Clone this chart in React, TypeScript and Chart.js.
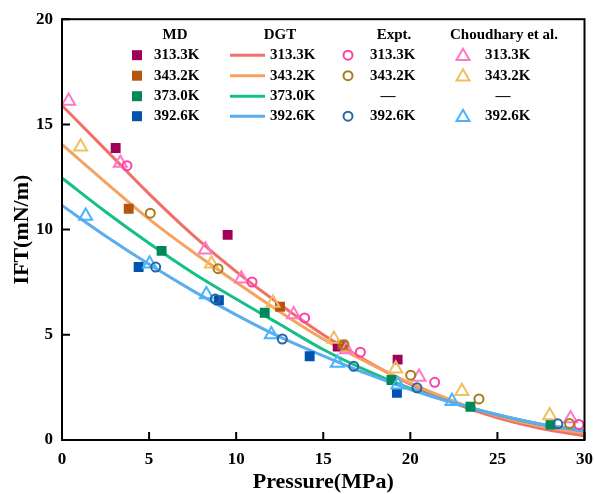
import React, { useEffect, useRef } from "react";
import { Chart, registerables } from "chart.js";

Chart.register(...registerables);

// ---------- data ----------
const tempLabels = ["313.3K", "343.2K", "373.0K", "392.6K"];
const xTicks = [0, 5, 10, 15, 20, 25, 30];
const yTicks = [0, 5, 10, 15, 20];

// MD (squares)
const md313x = [3.08, 9.51, 15.83, 19.27];
const md313y = [13.88, 9.75, 4.44, 3.82];
const md343x = [3.83, 12.52, 16.1];
const md343y = [10.99, 6.33, 4.53];
const md373x = [5.72, 11.64, 18.92, 23.45, 28.05];
const md373y = [8.99, 6.05, 2.85, 1.58, 0.74];
const md392x = [4.4, 9.01, 14.22, 19.23];
const md392y = [8.22, 6.64, 3.98, 2.24];

// DGT (lines)
const dgtP = [0, 2.5, 5, 7.5, 10, 12.5, 15, 17.5, 20, 22.5, 25, 27.5, 30];
const dgt313 = [15.9, 13.8, 11.7, 9.75, 8.0, 6.45, 5.0, 3.75, 2.65, 1.75, 1.05, 0.55, 0.2];
const dgt343 = [14.05, 12.25, 10.5, 8.95, 7.5, 6.1, 4.8, 3.7, 2.7, 1.85, 1.15, 0.65, 0.32];
const dgt373 = [12.45, 10.85, 9.35, 7.95, 6.7, 5.5, 4.3, 3.3, 2.45, 1.75, 1.2, 0.75, 0.45];
const dgt392 = [11.15, 9.7, 8.35, 7.1, 5.95, 4.9, 4.0, 3.15, 2.4, 1.75, 1.2, 0.75, 0.42];

// Expt. (circles)
const ex313x = [3.73, 10.91, 13.93, 17.13, 21.4, 29.68];
const ex313y = [13.04, 7.51, 5.8, 4.17, 2.74, 0.74];
const ex343x = [5.07, 8.96, 16.19, 20.02, 23.94, 29.14];
const ex343y = [10.78, 8.14, 4.53, 3.08, 1.95, 0.78];
const ex392x = [5.38, 8.8, 12.65, 16.75, 20.38, 28.47];
const ex392y = [8.22, 6.7, 4.8, 3.5, 2.48, 0.77];

// Choudhary et al. (triangles)
const ch313x = [0.38, 3.35, 8.23, 10.3, 13.3, 16.33, 20.5, 29.2];
const ch313y = [16.11, 13.16, 9.04, 7.66, 5.96, 4.3, 3.0, 1.02];
const ch343x = [1.07, 8.58, 12.11, 15.61, 19.16, 22.96, 28.0];
const ch343y = [13.94, 8.38, 6.51, 4.8, 3.39, 2.32, 1.16];
const ch392x = [1.36, 5.03, 8.29, 12.02, 15.81, 19.29, 22.39];
const ch392y = [10.65, 8.38, 6.91, 5.01, 3.66, 2.63, 1.84];

// ---------- styles ----------
const mdColors = ["#A0005A", "#B4560F", "#00885A", "#0054B0"];
const dgtColors = ["#F07068", "#F5A262", "#14C088", "#5CACEE"];
const exColors = ["#FF40A8", "#AA7A1E", "", "#2468A4"];
const chColors = ["#FF78C8", "#F0C060", "", "#48B4FF"];

const FONT = "'Liberation Serif', 'Times New Roman', serif";

const pts = (xs: number[], ys: number[]) => xs.map((x, i) => ({ x, y: ys[i] }));

const framePlugin = {
  id: "frameAndLegend",
  afterDraw(chart: any) {
    const { ctx, chartArea, scales } = chart;
    const { left, right, top, bottom } = chartArea;
    const xs = scales.x;
    const ys = scales.y;
    ctx.save();
    ctx.strokeStyle = "#000";
    ctx.lineWidth = 2;
    ctx.strokeRect(left, top, right - left, bottom - top);
    ctx.beginPath();
    for (const v of xTicks) {
      const px = xs.getPixelForValue(v);
      ctx.moveTo(px, bottom);
      ctx.lineTo(px, bottom - 8);
    }
    for (const v of yTicks) {
      const py = ys.getPixelForValue(v);
      ctx.moveTo(left, py);
      ctx.lineTo(left + 8, py);
    }
    ctx.stroke();

    // legend
    const ox = left;
    const oy = top;
    const headerY = oy + 16;
    const rows = [oy + 36, oy + 56.5, oy + 77, oy + 97];
    ctx.fillStyle = "#000";
    ctx.font = `bold 15px ${FONT}`;
    ctx.textBaseline = "middle";
    ctx.textAlign = "center";
    ctx.fillText("MD", ox + 113, headerY);
    ctx.fillText("DGT", ox + 218, headerY);
    ctx.fillText("Expt.", ox + 332, headerY);
    ctx.fillText("Choudhary et al.", ox + 442, headerY);

    rows.forEach((ry, i) => {
      // MD square
      ctx.fillStyle = mdColors[i];
      ctx.fillRect(ox + 75 - 5, ry - 5, 10, 10);
      ctx.fillStyle = "#000";
      ctx.textAlign = "left";
      ctx.fillText(tempLabels[i], ox + 92, ry);
      // DGT line
      ctx.strokeStyle = dgtColors[i];
      ctx.lineWidth = 3;
      ctx.beginPath();
      ctx.moveTo(ox + 168, ry);
      ctx.lineTo(ox + 203, ry);
      ctx.stroke();
      ctx.fillText(tempLabels[i], ox + 208, ry);
      // Expt circle
      if (exColors[i]) {
        ctx.strokeStyle = exColors[i];
        ctx.lineWidth = 2;
        ctx.beginPath();
        ctx.arc(ox + 286, ry, 4.5, 0, Math.PI * 2);
        ctx.stroke();
        ctx.fillText(tempLabels[i], ox + 308, ry);
      } else {
        ctx.textAlign = "center";
        ctx.fillText("\u2014", ox + 326, ry);
        ctx.textAlign = "left";
      }
      // Choudhary triangle
      if (chColors[i]) {
        const r = 7.5;
        const cx = ox + 401;
        const cy = ry + 1;
        ctx.strokeStyle = chColors[i];
        ctx.lineWidth = 2;
        ctx.beginPath();
        ctx.moveTo(cx, cy - r);
        ctx.lineTo(cx + r * 0.866, cy + r / 2);
        ctx.lineTo(cx - r * 0.866, cy + r / 2);
        ctx.closePath();
        ctx.stroke();
        ctx.fillText(tempLabels[i], ox + 423, ry);
      } else {
        ctx.textAlign = "center";
        ctx.fillText("\u2014", ox + 441, ry);
        ctx.textAlign = "left";
      }
    });
    ctx.restore();
  },
};

export default function App() {
  const ref = useRef<HTMLCanvasElement | null>(null);

  useEffect(() => {
    document.body.style.margin = "0";
    const canvas = ref.current;
    if (!canvas) return;

    const sq = (xs: number[], ys: number[], c: string, order: number) => ({
      type: "scatter" as const,
      data: pts(xs, ys),
      pointStyle: "rect",
      pointRadius: 7,
      backgroundColor: c,
      borderColor: c,
      borderWidth: 0,
      order,
    });
    const ln = (ys: number[], c: string, order: number) => ({
      type: "line" as const,
      data: pts(dgtP, ys),
      showLine: true,
      pointRadius: 0,
      borderColor: c,
      backgroundColor: c,
      borderWidth: 3,
      fill: false,
      cubicInterpolationMode: "monotone" as const,
      order,
    });
    const ci = (xs: number[], ys: number[], c: string, order: number) => ({
      type: "scatter" as const,
      data: pts(xs, ys),
      pointStyle: "circle",
      pointRadius: 4.5,
      backgroundColor: "rgba(0,0,0,0)",
      borderColor: c,
      borderWidth: 2,
      order,
    });
    const tr = (xs: number[], ys: number[], c: string, order: number) => ({
      type: "scatter" as const,
      data: pts(xs, ys),
      pointStyle: "triangle",
      pointRadius: 7.5,
      backgroundColor: "rgba(0,0,0,0)",
      borderColor: c,
      borderWidth: 2,
      order,
    });

    const chart = new Chart(canvas, {
      type: "scatter",
      data: {
        datasets: [
          ln(dgt313, dgtColors[0], 40),
          ln(dgt343, dgtColors[1], 39),
          ln(dgt373, dgtColors[2], 38),
          ln(dgt392, dgtColors[3], 37),
          sq(md313x, md313y, mdColors[0], 30),
          sq(md343x, md343y, mdColors[1], 29),
          sq(md373x, md373y, mdColors[2], 28),
          sq(md392x, md392y, mdColors[3], 27),
          tr(ch313x, ch313y, chColors[0], 20),
          tr(ch343x, ch343y, chColors[1], 19),
          tr(ch392x, ch392y, chColors[3], 18),
          ci(ex313x, ex313y, exColors[0], 10),
          ci(ex343x, ex343y, exColors[1], 9),
          ci(ex392x, ex392y, exColors[3], 8),
        ] as any,
      },
      options: {
        responsive: false,
        animation: false,
        devicePixelRatio: 1,
        layout: { padding: { top: 19, right: 0, left: 0, bottom: 0 } },
        plugins: { legend: { display: false }, tooltip: { enabled: false } },
        scales: {
          x: {
            type: "linear",
            min: 0,
            max: 30,
            afterFit: (s: any) => {
              s.height = 54;
              s.paddingRight = 8;
              s.paddingLeft = 0;
            },
            grid: { display: false, drawTicks: false },
            border: { display: false },
            ticks: {
              stepSize: 5,
              padding: 9,
              color: "#000",
              font: { family: FONT, weight: "bold", size: 17 },
            },
            title: {
              display: true,
              text: "Pressure(MPa)",
              color: "#000",
              font: { family: FONT, weight: "bold", size: 22 },
              padding: { top: 0, bottom: -2 },
            },
          },
          y: {
            type: "linear",
            min: 0,
            max: 20,
            afterFit: (s: any) => {
              s.width = 62;
            },
            grid: { display: false, drawTicks: false },
            border: { display: false },
            ticks: {
              stepSize: 5,
              padding: 9,
              color: "#000",
              font: { family: FONT, weight: "bold", size: 17 },
            },
            title: {
              display: true,
              text: "IFT(mN/m)",
              color: "#000",
              font: { family: FONT, weight: "bold", size: 22 },
              padding: { top: 9, bottom: 0 },
            },
          },
        },
      },
      plugins: [framePlugin],
    });
    return () => chart.destroy();
  }, []);

  return (
    <div style={{ width: 594, height: 494, position: "relative" }}>
      <canvas ref={ref} width={594} height={494} />
    </div>
  );
}
